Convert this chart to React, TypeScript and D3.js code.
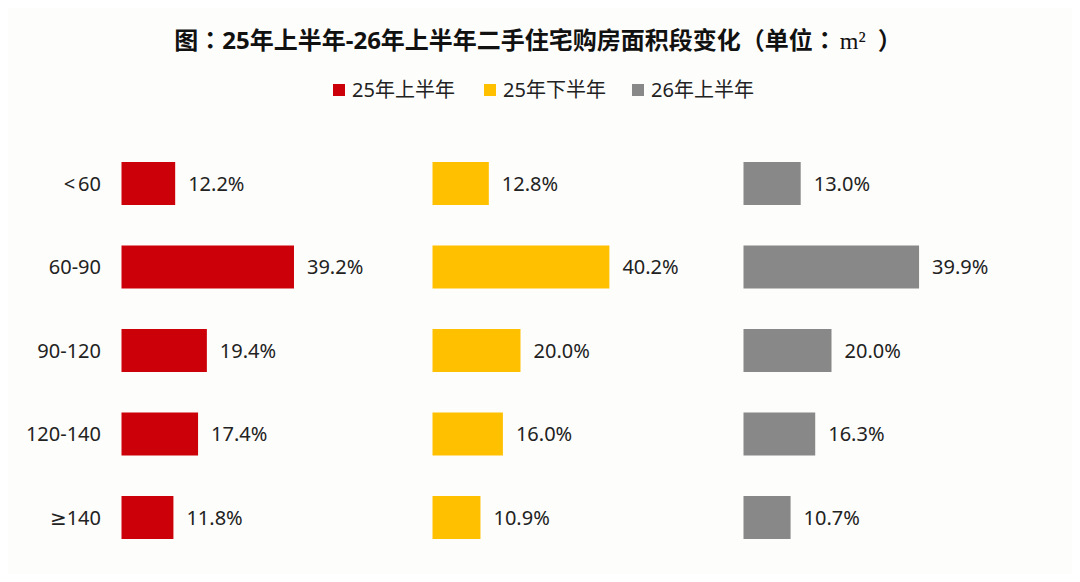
import React from "react";
import * as d3 from "d3";

const categories = ["<60", "60-90", "90-120", "120-140", "≥140"];
const seriesNames = ["25年上半年", "25年下半年", "26年上半年"];
const series1 = [12.2, 39.2, 19.4, 17.4, 11.8];
const series2 = [12.8, 40.2, 20.0, 16.0, 10.9];
const series3 = [13.0, 39.9, 20.0, 16.3, 10.7];
const colors = ["#CC0008", "#FFC000", "#888888"];
const titleParts = ["图", "：", "25年上半年-26年上半年二手住宅购房面积段变化", "（", "单位", "：", "m²", "）"];

const W = 1080;
const H = 582;
const FONT = "'Noto Sans', 'Noto Sans CJK SC', sans-serif";
const PUNCT = "'Noto Sans CJK TC', 'Noto Sans CJK SC', sans-serif";

export default function App() {
  const allSeries = [series1, series2, series3];
  const y = d3
    .scaleBand<string>()
    .domain(categories)
    .range([141.75, 559.25])
    .paddingInner(0.485)
    .paddingOuter(0.2425);
  const x = d3.scaleLinear().domain([0, 40]).range([0, 176]);
  const panelX = d3.scalePoint<number>().domain([0, 1, 2]).range([121.5, 743.5]);
  const legendX = [333, 484, 632];

  return (
    <div style={{ margin: -8, width: W, height: H, overflow: "hidden" }}>
      <svg width={W} height={H} style={{ display: "block", background: "#fdfdfb" }} fontFamily={FONT}>
        <text x={538} y={49} textAnchor="middle" fontSize={24} fontWeight="bold" fill="#111">
          <tspan>{titleParts[0]}</tspan>
          <tspan fontFamily={PUNCT}>{titleParts[1]}</tspan>
          <tspan>{titleParts[2]}</tspan>
          <tspan fontFamily={PUNCT}>{titleParts[3]}</tspan>
          <tspan>{titleParts[4]}</tspan>
          <tspan fontFamily={PUNCT}>{titleParts[5]}</tspan>
          <tspan fontFamily="'Liberation Serif', serif" fontWeight="normal" dx={3}>{titleParts[6]}</tspan>
          <tspan fontFamily={PUNCT} dx={12}>{titleParts[7]}</tspan>
        </text>
        {seriesNames.map((name, i) => (
          <g key={name}>
            <rect x={legendX[i]} y={84} width={12} height={12} fill={colors[i]} />
            <text x={legendX[i] + 19} y={90} dy="0.36em" fontSize={20} fill="#222">
              {name}
            </text>
          </g>
        ))}
        {categories.map((c) => (
          <text
            key={c}
            x={101}
            y={(y(c) as number) + y.bandwidth() / 2}
            dy="0.36em"
            textAnchor="end"
            fontSize={20}
            fill="#222"
          >
            {c.startsWith("≥") ? (
              <>
                <tspan fontFamily="'DejaVu Sans', sans-serif">≥</tspan>
                <tspan>{c.slice(1)}</tspan>
              </>
            ) : c.startsWith("<") ? (
              <>
                <tspan>{"<"}</tspan>
                <tspan dx={3}>{c.slice(1)}</tspan>
              </>
            ) : (
              c
            )}
          </text>
        ))}
        {allSeries.map((vals, si) => (
          <g key={si} transform={`translate(${panelX(si)},0)`}>
            {vals.map((v, ci) => {
              const c = categories[ci];
              const yy = y(c) as number;
              return (
                <g key={c}>
                  <rect x={0} y={yy} width={x(v)} height={y.bandwidth()} fill={colors[si]} />
                  <text
                    x={x(v) + 13}
                    y={yy + y.bandwidth() / 2}
                    dy="0.36em"
                    fontSize={20}
                    fill="#222"
                  >
                    {v.toFixed(1)}%
                  </text>
                </g>
              );
            })}
          </g>
        ))}
      </svg>
    </div>
  );
}
